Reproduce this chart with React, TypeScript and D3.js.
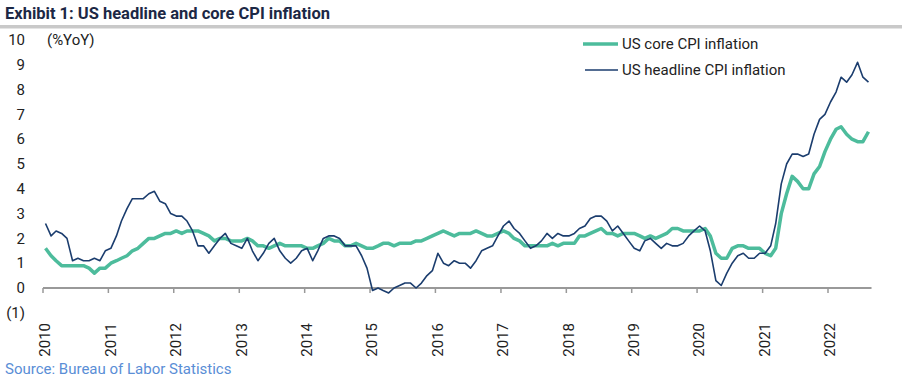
import React from "react";
import * as d3 from "d3";

const startYear = 2010;
const yearLabels = ["2010","2011","2012","2013","2014","2015","2016","2017","2018","2019","2020","2021","2022"];
const yTickValues = [-1,0,1,2,3,4,5,6,7,8,9,10];

// Monthly YoY %, Jan 2010 - Aug 2022
const headline = [
  2.6,2.1,2.3,2.2,2.0,1.1,1.2,1.1,1.1,1.2,1.1,1.5,
  1.6,2.1,2.7,3.2,3.6,3.6,3.6,3.8,3.9,3.5,3.4,3.0,
  2.9,2.9,2.7,2.3,1.7,1.7,1.4,1.7,2.0,2.2,1.8,1.7,
  1.6,2.0,1.5,1.1,1.4,1.8,2.0,1.5,1.2,1.0,1.2,1.5,
  1.6,1.1,1.5,2.0,2.1,2.1,2.0,1.7,1.7,1.7,1.3,0.8,
  -0.1,0.0,-0.1,-0.2,0.0,0.1,0.2,0.2,0.0,0.2,0.5,0.7,
  1.4,1.0,0.9,1.1,1.0,1.0,0.8,1.1,1.5,1.6,1.7,2.1,
  2.5,2.7,2.4,2.2,1.9,1.6,1.7,1.9,2.2,2.0,2.2,2.1,
  2.1,2.2,2.4,2.5,2.8,2.9,2.9,2.7,2.3,2.5,2.2,1.9,
  1.6,1.5,1.9,2.0,1.8,1.6,1.8,1.7,1.7,1.8,2.1,2.3,
  2.5,2.3,1.5,0.3,0.1,0.6,1.0,1.3,1.4,1.2,1.2,1.4,
  1.4,1.7,2.6,4.2,5.0,5.4,5.4,5.3,5.4,6.2,6.8,7.0,
  7.5,7.9,8.5,8.3,8.6,9.1,8.5,8.3
];
const core = [
  1.6,1.3,1.1,0.9,0.9,0.9,0.9,0.9,0.8,0.6,0.8,0.8,
  1.0,1.1,1.2,1.3,1.5,1.6,1.8,2.0,2.0,2.1,2.2,2.2,
  2.3,2.2,2.3,2.3,2.3,2.2,2.1,1.9,2.0,2.0,1.9,1.9,
  1.9,2.0,1.9,1.7,1.7,1.6,1.7,1.8,1.7,1.7,1.7,1.7,
  1.6,1.6,1.7,1.8,2.0,1.9,1.9,1.7,1.7,1.8,1.7,1.6,
  1.6,1.7,1.8,1.8,1.7,1.8,1.8,1.8,1.9,1.9,2.0,2.1,
  2.2,2.3,2.2,2.1,2.2,2.2,2.2,2.3,2.2,2.1,2.1,2.2,
  2.3,2.2,2.0,1.9,1.7,1.7,1.7,1.7,1.7,1.8,1.7,1.8,
  1.8,1.8,2.1,2.1,2.2,2.3,2.4,2.2,2.2,2.1,2.2,2.2,
  2.2,2.1,2.0,2.1,2.0,2.1,2.2,2.4,2.4,2.3,2.3,2.3,
  2.3,2.4,2.1,1.4,1.2,1.2,1.6,1.7,1.7,1.6,1.6,1.6,
  1.4,1.3,1.6,3.0,3.8,4.5,4.3,4.0,4.0,4.6,4.9,5.5,
  6.0,6.4,6.5,6.2,6.0,5.9,5.9,6.3
];

const W = 902, H = 379;
const FONT = "Roboto, 'Noto Sans', Arial, sans-serif";
const CORE_COLOR = "#4dbc9c";
const HEAD_COLOR = "#1b3d6e";

export default function App() {
  const x = d3.scaleTime()
    .domain([new Date(2010, 0, 1), new Date(2022, 0, 1)])
    .range([43, 828]);
  const y = d3.scaleLinear().domain([-1, 10]).range([312.8, 40]);
  const monthDate = (i: number) => new Date(startYear + Math.floor(i / 12), i % 12, 15);

  const line = d3.line<number>()
    .x((_, i) => x(monthDate(i)))
    .y((d) => y(d));

  const axisEnd = x(new Date(2022, 8, 1));

  return (
    <div style={{ position: "absolute", left: 0, top: 0 }}>
      <svg width={W} height={H} style={{ display: "block", fontFamily: FONT }}>
        <rect x={0} y={0} width={W} height={H} fill="#fff" />
        <text x={5} y={19} fontSize={16.5} fontWeight="bold" fill="#1c2845">
          Exhibit 1: US headline and core CPI inflation
        </text>
        <rect x={0} y={25} width={W} height={3.5} fill="#c9c9c9" />

        {yTickValues.map((v) => (
          <text key={v} x={25} y={y(v)} dy="0.35em" textAnchor="end" fontSize={15} fill="#222">
            {v < 0 ? `(${Math.abs(v)})` : v}
          </text>
        ))}
        <text x={47} y={y(10)} dy="0.35em" fontSize={15} fill="#222">(%YoY)</text>

        <line x1={x(new Date(2010, 0, 1))} x2={axisEnd} y1={y(0)} y2={y(0)} stroke="#999" strokeWidth={2} />
        {yearLabels.map((yl) => {
          const xx = x(new Date(+yl, 0, 1));
          return (
            <g key={yl}>
              <line x1={xx} x2={xx} y1={y(0)} y2={y(0) + 5} stroke="#999" strokeWidth={1.5} />
              <text
                transform={`translate(${xx + 2},323) rotate(-90)`}
                textAnchor="end"
                dy="0.35em"
                fontSize={15}
                fill="#222"
              >
                {yl}
              </text>
            </g>
          );
        })}

        <path d={line(core) || ""} fill="none" stroke={CORE_COLOR} strokeWidth={3.5} strokeLinejoin="round" />
        <path d={line(headline) || ""} fill="none" stroke={HEAD_COLOR} strokeWidth={1.6} strokeLinejoin="round" />

        <line x1={583} x2={618} y1={44} y2={44} stroke={CORE_COLOR} strokeWidth={3.5} />
        <text x={622} y={44} dy="0.35em" fontSize={15} fill="#222">US core CPI inflation</text>
        <line x1={585} x2={618} y1={70} y2={70} stroke={HEAD_COLOR} strokeWidth={1.6} />
        <text x={622} y={70} dy="0.35em" fontSize={15} fill="#222">US headline CPI inflation</text>

        <text x={5} y={369} dy="0.35em" fontSize={15} fill="#5a8ed6">Source: Bureau of Labor Statistics</text>
      </svg>
    </div>
  );
}
